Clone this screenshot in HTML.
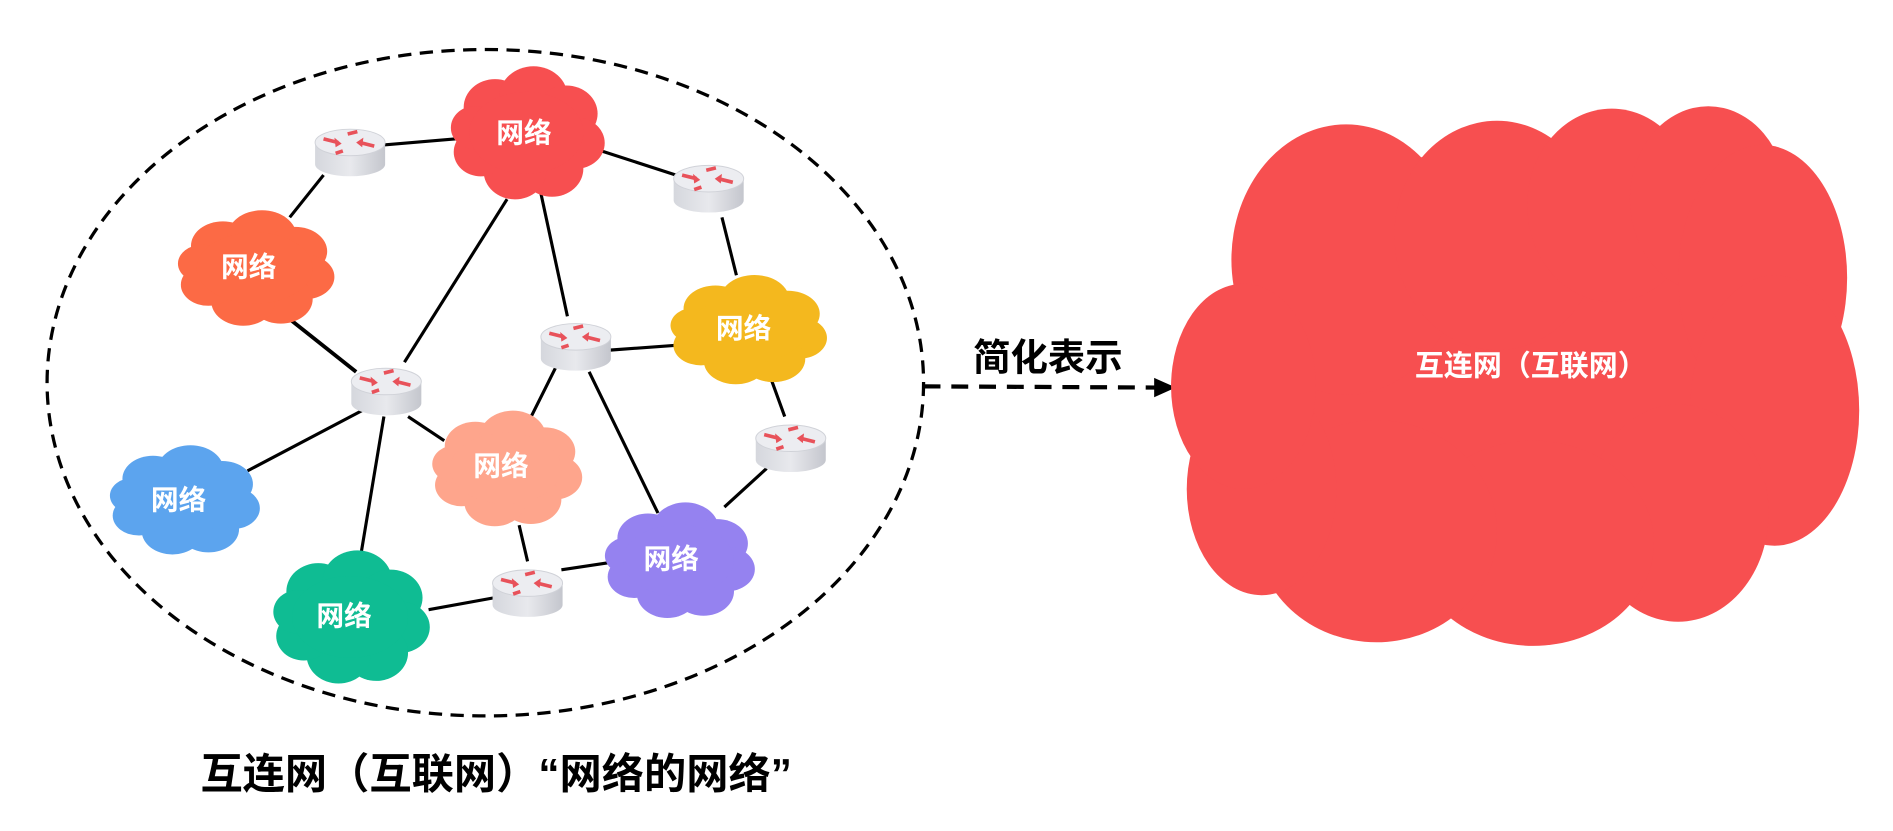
<!DOCTYPE html>
<html><head><meta charset="utf-8"><style>
html,body{margin:0;padding:0;background:#fff;width:1893px;height:831px;overflow:hidden}
svg{display:block}
text{font-family:"Liberation Sans","Noto Sans CJK SC",sans-serif;font-weight:bold}
</style></head><body>
<svg width="1893" height="831" viewBox="0 0 1568 688.3" xmlns="http://www.w3.org/2000/svg">
<defs>
<g id="cloud">
<circle cx="-22" cy="-20" r="22"/><circle cx="5" cy="-28" r="24"/><circle cx="28" cy="-15" r="22"/>
<circle cx="35" cy="8" r="20"/><circle cx="18" cy="28" r="22"/><circle cx="-8" cy="30" r="22"/>
<circle cx="-32" cy="15" r="19"/><circle cx="-36" cy="-4" r="17"/><ellipse cx="0" cy="0" rx="40" ry="32"/>
</g>
<linearGradient id="rb" x1="0" x2="1"><stop offset="0" stop-color="#d5d7dd"/><stop offset=".5" stop-color="#e8e9ed"/><stop offset="1" stop-color="#c4c6cd"/></linearGradient>
<g id="router">
<path d="M-29,-6 L-29,12 A29,10 0 0 0 29,12 L29,-6 Z" fill="url(#rb)"/>
<ellipse cx="0" cy="-6" rx="29" ry="11" fill="#ecedf1" stroke="#d0d2d8" stroke-width="0.8"/>
<g stroke="#e8525a" stroke-width="3" fill="#e8525a">
<line x1="-22" y1="-9" x2="-10" y2="-6"/><polygon points="-7,-5 -13,-10 -12,-2" stroke="none"/>
<line x1="20" y1="-3" x2="8" y2="-6"/><polygon points="5,-6 11,-10 10,-2" stroke="none"/>
<line x1="-2" y1="-13" x2="6" y2="-15"/><line x1="-6" y1="1" x2="-12" y2="3"/>
</g>
</g>
</defs>
<ellipse cx="402" cy="317" rx="363" ry="276" fill="none" stroke="#000" stroke-width="2.7" stroke-dasharray="11,7"/>
<g stroke="#000" stroke-width="2.6">
<line x1="318" y1="120" x2="378" y2="115"/><line x1="268" y1="145" x2="240" y2="180"/>
<line x1="498" y1="125" x2="560" y2="145"/><line x1="598" y1="180" x2="610" y2="228"/>
<line x1="448" y1="160" x2="470" y2="262"/><line x1="420" y1="165" x2="335" y2="300"/>
<line x1="232" y1="258" x2="295" y2="308" stroke-width="3.2"/><line x1="505" y1="290" x2="560" y2="286"/>
<line x1="460" y1="305" x2="440" y2="345"/><line x1="488" y1="308" x2="545" y2="425"/>
<line x1="338" y1="345" x2="368" y2="365"/><line x1="300" y1="340" x2="205" y2="390"/>
<line x1="318" y1="345" x2="298" y2="465"/><line x1="430" y1="435" x2="437" y2="465"/>
<line x1="410" y1="495" x2="355" y2="505"/><line x1="465" y1="472" x2="505" y2="466"/>
<line x1="638" y1="312" x2="650" y2="345"/><line x1="635" y1="388" x2="600" y2="420"/>
</g>
<use href="#cloud" fill="#f74f50" transform="translate(436,110) scale(1.18,1.06)"/>
<use href="#cloud" fill="#fc6a45" transform="translate(211,222) scale(1.2,0.92)"/>
<use href="#cloud" fill="#f4b81e" transform="translate(619,273) scale(1.2,0.87)"/>
<use href="#cloud" fill="#fea58c" transform="translate(419,388) scale(1.15,0.92)"/>
<use href="#cloud" fill="#5ca4ee" transform="translate(152,414) scale(1.15,0.87)"/>
<use href="#cloud" fill="#0fbc93" transform="translate(290,511) scale(1.2,1.06)"/>
<use href="#cloud" fill="#9582f0" transform="translate(562,464) scale(1.15,0.92)"/>
<g fill="#fff" font-size="23" text-anchor="middle">
<text x="434" y="118">网络</text><text x="206" y="229">网络</text><text x="616" y="280">网络</text>
<text x="415" y="394">网络</text><text x="148" y="422">网络</text><text x="285" y="518">网络</text><text x="556" y="471">网络</text>
</g>
<use href="#router" transform="translate(290,124)"/>
<use href="#router" transform="translate(587,154)"/>
<use href="#router" transform="translate(477,285)"/>
<use href="#router" transform="translate(320,322)"/>
<use href="#router" transform="translate(655,369)"/>
<use href="#router" transform="translate(437,489)"/>
<text x="868" y="307" font-size="31" text-anchor="middle" fill="#000">简化表示</text>
<line x1="765" y1="320" x2="958" y2="321" stroke="#000" stroke-width="3.5" stroke-dasharray="14,9"/>
<polygon points="974,321 956,313 956,329" fill="#000"/>
<g fill="#f74f50">
<ellipse cx="1255" cy="310" rx="240" ry="190"/>
<ellipse cx="1115" cy="215" rx="95" ry="112"/><ellipse cx="1240" cy="195" rx="85" ry="95"/>
<ellipse cx="1335" cy="170" rx="70" ry="80"/><ellipse cx="1415" cy="165" rx="65" ry="77"/>
<ellipse cx="1460" cy="230" rx="70" ry="110"/><ellipse cx="1470" cy="340" rx="70" ry="112"/>
<ellipse cx="1390" cy="425" rx="75" ry="90"/><ellipse cx="1270" cy="450" rx="100" ry="85"/>
<ellipse cx="1140" cy="440" rx="100" ry="92"/><ellipse cx="1045" cy="405" rx="62" ry="88"/>
<ellipse cx="1030" cy="320" rx="60" ry="85"/>
</g>
<text x="1268" y="311" font-size="24" fill="#fff" text-anchor="middle">互连网（互联网）</text>
<text x="411" y="653" font-size="35" fill="#000" text-anchor="middle">互连网（互联网）“网络的网络”</text>
</svg>
</body></html>
